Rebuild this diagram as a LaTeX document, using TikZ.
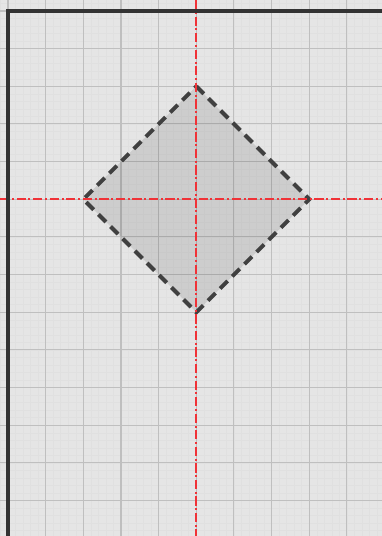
\documentclass[tikz,border=0pt]{standalone}
\begin{document}
\begin{tikzpicture}[
  minorgrid/.style={draw=black!12, line width=0.4pt},
  majorgrid/.style={draw=black!25, line width=0.8pt},
  axisline/.style={draw=black!80, line width=2.4pt},
  centerline/.style={draw={rgb,255:red,240;green,50;blue,55}, line width=1.6pt, dash pattern=on 7pt off 2pt on 1.5pt off 2pt},
  diamondshape/.style={draw=black!75, line width=3pt, dash pattern=on 8pt off 5pt, line join=miter},
  diamondfill/.style={fill=black, fill opacity=0.1}
]
\def\xmin{-0.2124}\def\xmax{9.931}\def\ymin{-13.941}\def\ymax{0.292}
\fill[black!10] (\xmin,\ymin) rectangle (\xmax,\ymax);
\useasboundingbox (\xmin,\ymin) rectangle (\xmax,\ymax);
\begin{scope}
\clip (\xmin,\ymin) rectangle (\xmax,\ymax);
\draw[minorgrid] (-1,-15) grid[step=0.2] (11,1);
\draw[majorgrid] (-1,-15) grid[step=1] (11,1);
\end{scope}
\coordinate (T) at (5,-2);
\coordinate (R) at (8,-5);
\coordinate (B) at (5,-8);
\coordinate (L) at (2,-5);
\coordinate (vtop) at (5,\ymax);
\coordinate (vbot) at (5,\ymin);
\coordinate (hleft) at (\xmin,-5);
\coordinate (hright) at (\xmax,-5);
\coordinate (corner) at (0,0);
\coordinate (topend) at (\xmax,0);
\coordinate (leftend) at (0,\ymin);
\fill[diamondfill] (T) -- (R) -- (B) -- (L) -- cycle;
\draw[diamondshape] (T) -- (R) -- (B) -- (L) -- cycle;
\draw[centerline] (vtop) -- (vbot);
\draw[centerline] (hleft) -- (hright);
\draw[axisline, line cap=butt] (leftend) -- (corner) -- (topend);
\end{tikzpicture}
\end{document}
